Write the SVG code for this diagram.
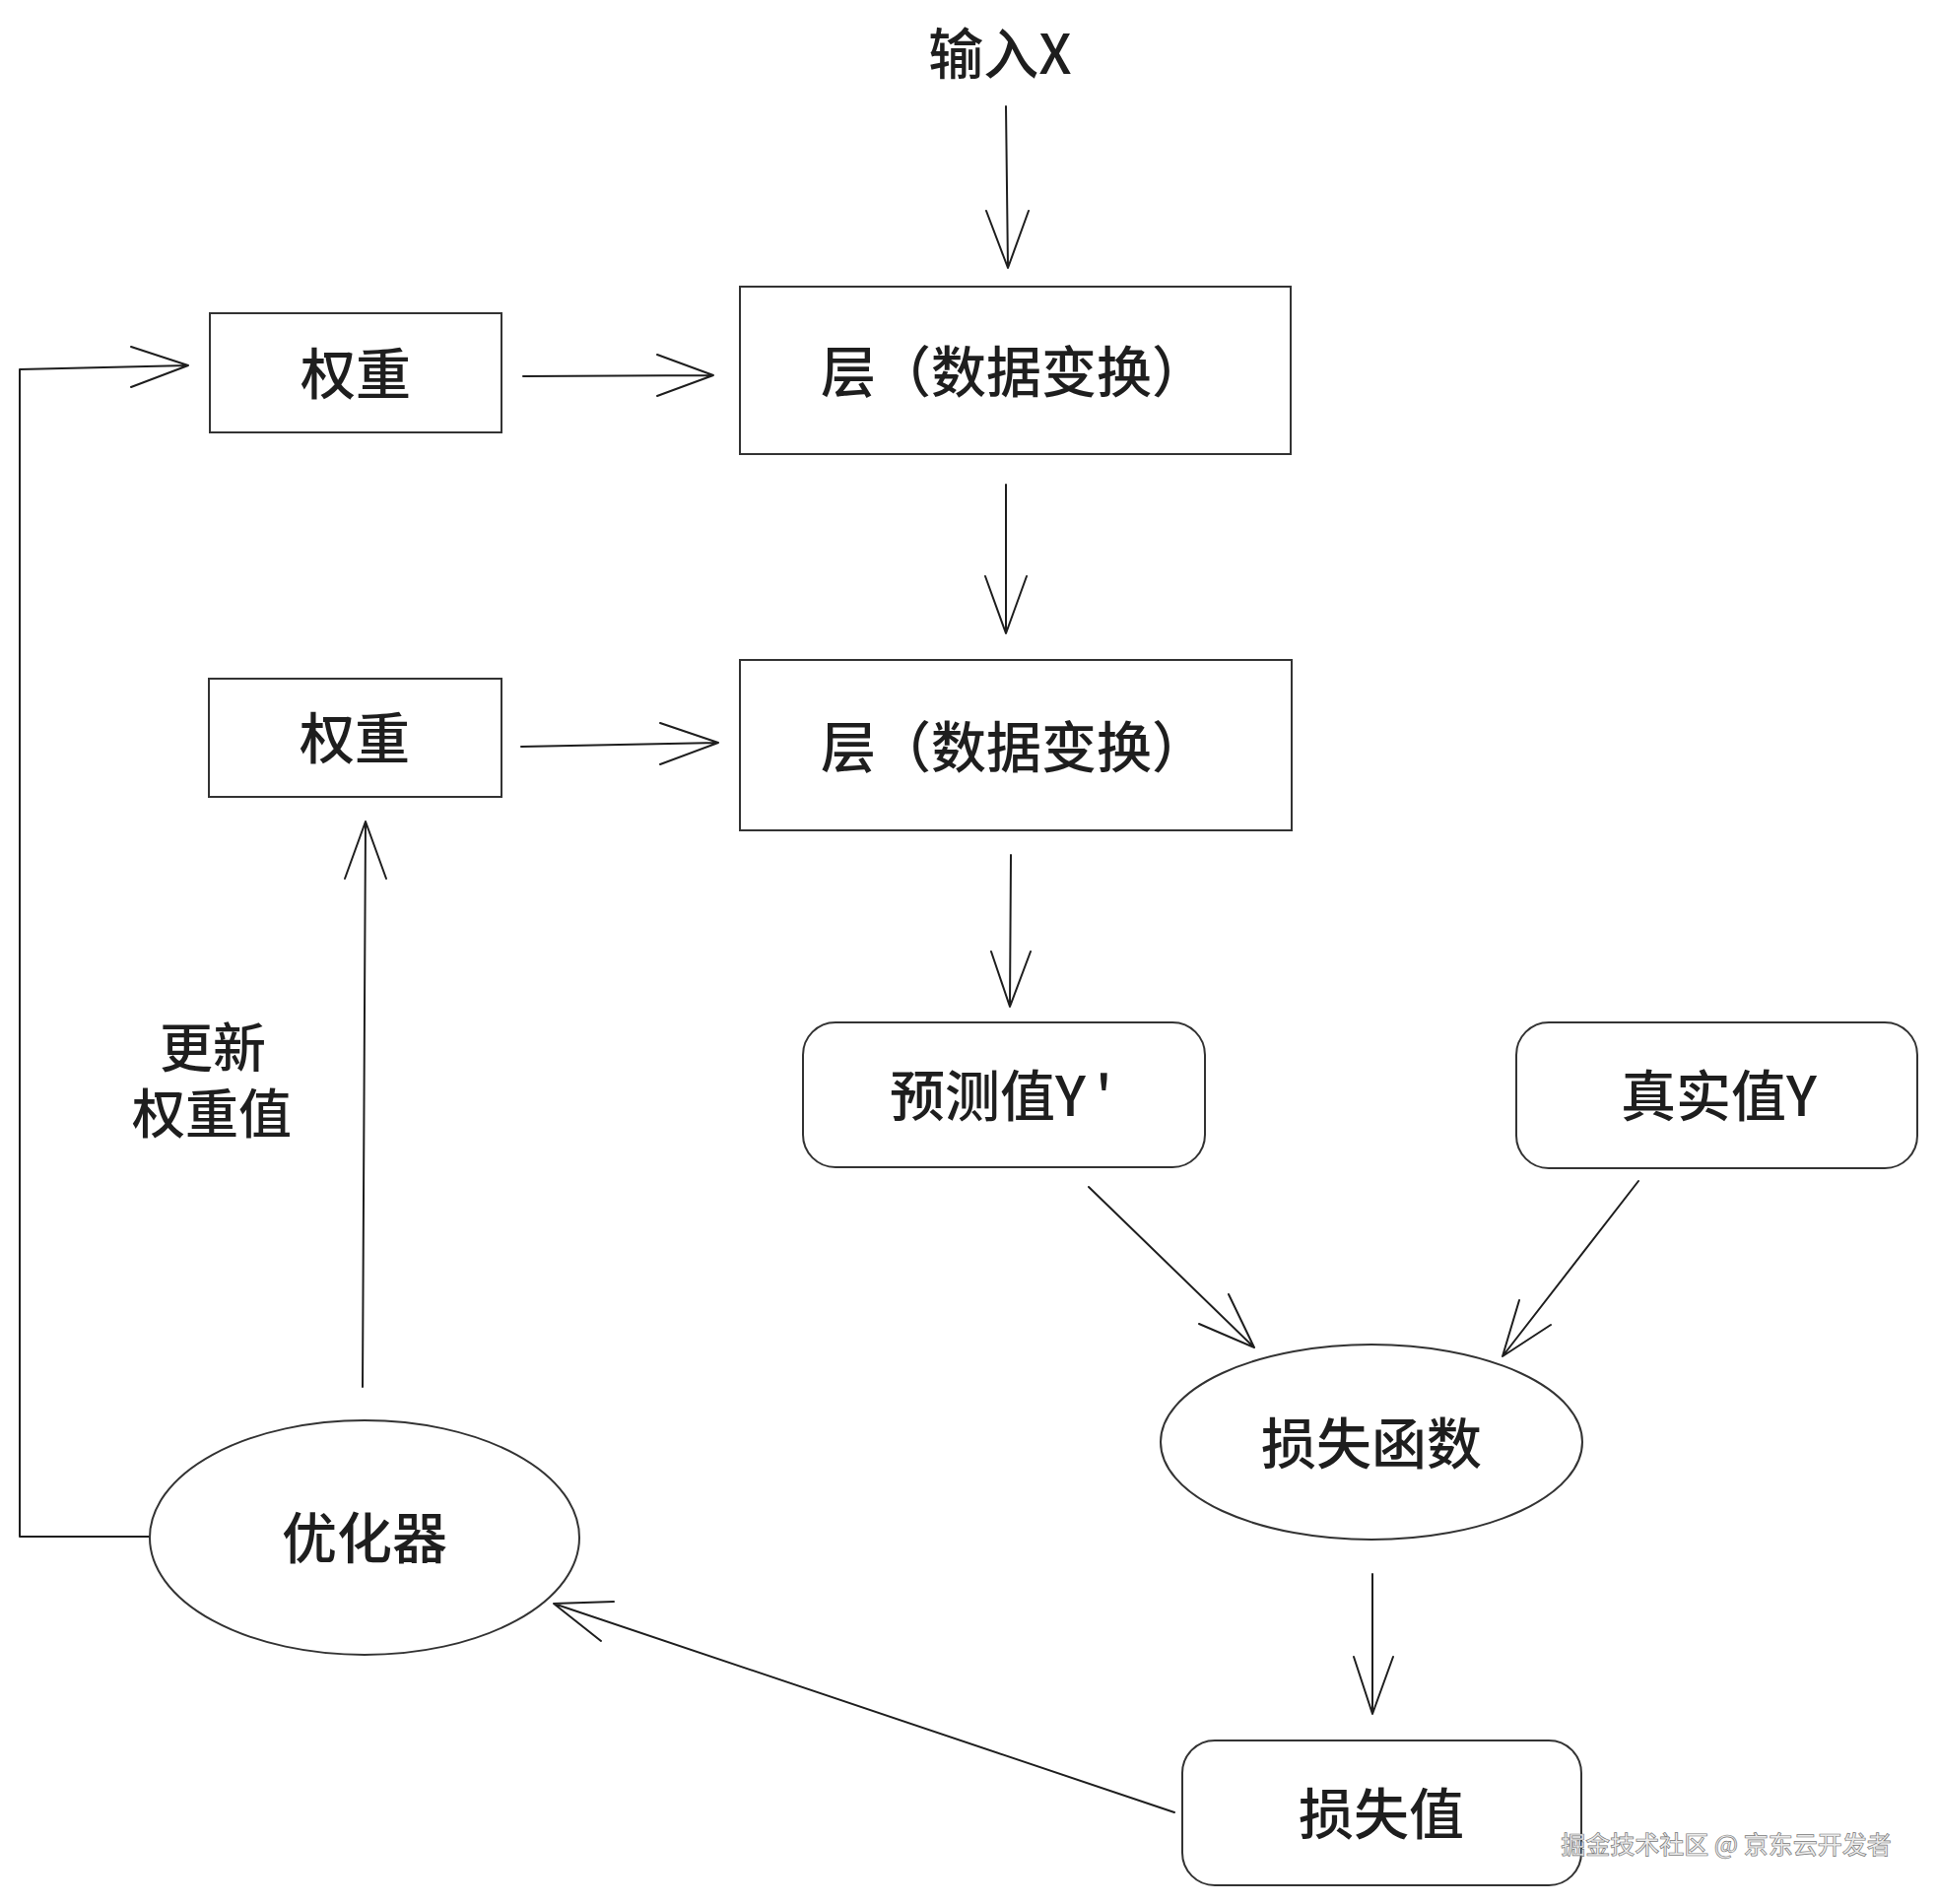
<svg xmlns="http://www.w3.org/2000/svg" width="1966" height="1933" viewBox="0 0 1966 1933">
<style>
.lbl{font-family:"Noto Sans CJK SC","Noto Sans",sans-serif;font-size:56px;font-weight:500;fill:#1e1e1e}
.sm{font-size:54px}
.box{fill:#fff;stroke:#333;stroke-width:2}
.ln{fill:none;stroke:#1e1e1e;stroke-width:2;stroke-linecap:round;stroke-linejoin:round}
.wm{font-family:"Noto Sans CJK SC","Noto Sans",sans-serif;font-size:25px;font-weight:500;fill:#ececec;stroke:#7a7a7a;stroke-width:0.7}
</style>
<rect width="1966" height="1933" fill="#fff"/>
<g id="connectors">
  <path class="ln" d="M1021 108 L1023 272 M1001 214 L1023 272 L1044 214"/>
  <path class="ln" d="M1021 492 L1021 643 M1000 585 L1021 643 L1042 585"/>
  <path class="ln" d="M531 382 L724 381 M667 360 L724 381 L667 402"/>
  <path class="ln" d="M529 758 L729 754 M670 734 L729 754 L670 776"/>
  <path class="ln" d="M1026 868 L1025 1022 M1006 966 L1025 1022 L1046 966"/>
  <path class="ln" d="M1105 1205 L1273 1368 M1217 1344 L1273 1368 L1247 1314"/>
  <path class="ln" d="M1663 1199 L1525 1377 M1542 1320 L1525 1377 L1574 1345"/>
  <path class="ln" d="M1393 1598 L1393 1740 M1374 1682 L1393 1740 L1414 1682"/>
  <path class="ln" d="M1192 1840 L562 1628 M623 1626 L562 1628 L610 1666"/>
  <path class="ln" d="M368 1408 L371 834 M350 892 L371 834 L392 892"/>
  <path class="ln" d="M151 1560 L20 1560 L20 375 L191 371 M133 352 L191 371 L133 393"/>
</g>
<g id="input-x">
  <text class="lbl" x="1015" y="75" text-anchor="middle">输入X</text>
</g>
<g id="weight-1">
  <rect class="box" x="213" y="318" width="296" height="121"/>
  <text class="lbl" x="361" y="400" text-anchor="middle">权重</text>
</g>
<g id="layer-1">
  <rect class="box" x="751" y="291" width="559" height="170"/>
  <text class="lbl" x="833" y="398">层（数据变换）</text>
</g>
<g id="weight-2">
  <rect class="box" x="212" y="689" width="297" height="120"/>
  <text class="lbl" x="360" y="770" text-anchor="middle">权重</text>
</g>
<g id="layer-2">
  <rect class="box" x="751" y="670" width="560" height="173"/>
  <text class="lbl" x="833" y="779">层（数据变换）</text>
</g>
<g id="prediction">
  <rect class="box" x="815" y="1038" width="408" height="147" rx="33" ry="33"/>
  <text class="lbl" x="903" y="1133">预测值Y<tspan dx="10">'</tspan></text>
</g>
<g id="truth">
  <rect class="box" x="1539" y="1038" width="407" height="148" rx="33" ry="33"/>
  <text class="lbl" x="1645" y="1133">真实值Y</text>
</g>
<g id="loss-function">
  <ellipse class="box" cx="1392" cy="1464" rx="214" ry="99"/>
  <text class="lbl" x="1392" y="1486" text-anchor="middle">损失函数</text>
</g>
<g id="loss-value">
  <rect class="box" x="1200" y="1767" width="405" height="147" rx="33" ry="33"/>
  <text class="lbl" x="1402" y="1862" text-anchor="middle">损失值</text>
</g>
<g id="optimizer">
  <ellipse class="box" cx="370" cy="1561" rx="218" ry="119"/>
  <text class="lbl" x="370" y="1582" text-anchor="middle">优化器</text>
</g>
<g id="update-label">
  <text class="lbl sm" text-anchor="middle"><tspan x="216" y="1084">更新</tspan><tspan x="215" y="1151">权重值</tspan></text>
</g>
<g id="watermark">
  <text class="wm" x="1752" y="1882" text-anchor="middle">掘金技术社区 @ 京东云开发者</text>
</g>
</svg>
